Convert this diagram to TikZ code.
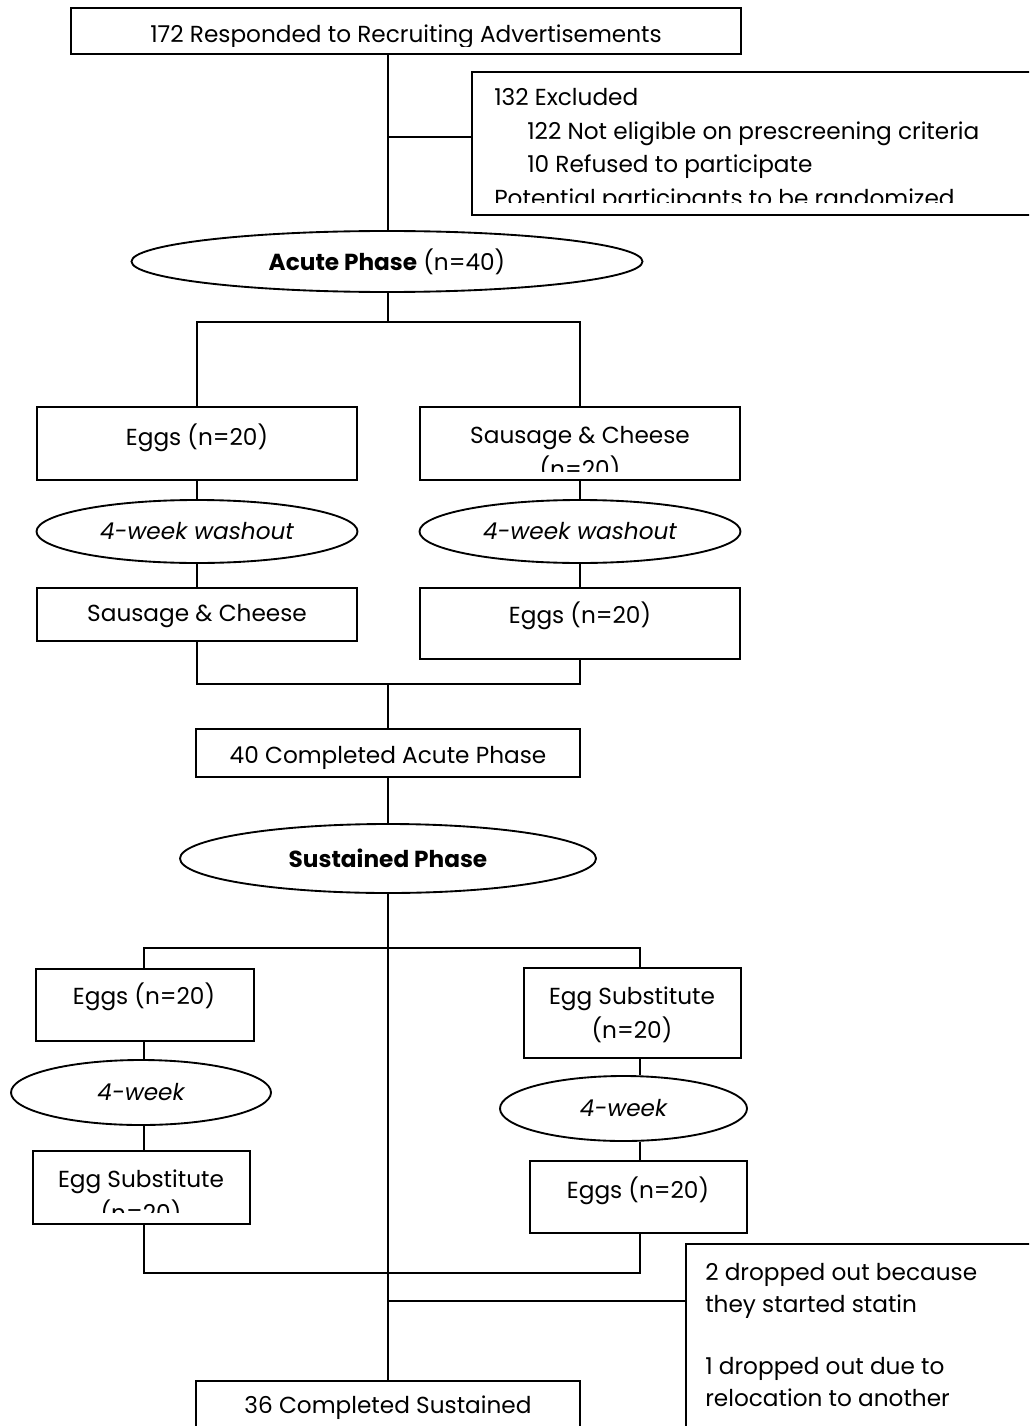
\documentclass[tikz,border=0pt]{standalone}
\usepackage{fontspec}
\setmainfont{Poppins}
\usetikzlibrary{shapes.geometric,fit}
\newcommand\dfont{\fontsize{17.4pt}{20pt}\selectfont}
\tikzset{
  box/.style={draw, line width=1.4pt, inner sep=0pt},
  oval/.style={draw, ellipse, line width=1.4pt, inner sep=0pt, font=\dfont},
  txt/.style={inner sep=0pt, anchor=base, font=\dfont},
  ltxt/.style={inner sep=0pt, anchor=base west, font=\dfont},
  conn/.style={line width=1pt},
}
\begin{document}
\begin{tikzpicture}[x=0.75pt,y=-0.75pt]
\clip (0,0) rectangle (1029,1426);
\useasboundingbox (0,0) rectangle (1029,1426);

% ---------- boxes ----------
\node[box, fit={(71,8)(741,54)}] (top) {};
\node[box, fit={(472,72)(1040,215)}] (excl1) {};
\node[box, fit={(37,407)(357,480)}] (eggs1) {};
\node[box, fit={(420,407)(740,480)}] (sc1) {};
\node[box, fit={(37,588)(357,641)}] (sc2) {};
\node[box, fit={(420,588)(740,659)}] (eggs2) {};
\node[box, fit={(196,729)(580,777)}] (cacute) {};
\node[box, fit={(36,969)(254,1041)}] (eggs3) {};
\node[box, fit={(524,968)(741,1058)}] (esub1) {};
\node[box, fit={(33,1151)(250,1224)}] (esub2) {};
\node[box, fit={(530,1161)(747,1233)}] (eggs4) {};
\node[box, fit={(686,1244)(1040,1440)}] (excl2) {};
\node[box, fit={(196,1381)(580,1440)}] (csust) {};

% ---------- ellipses ----------
\node[oval, minimum width=383.25pt, minimum height=45.75pt] (acute) at (387,261.5) {\textbf{Acute Phase} (n=40)};
\node[oval, minimum width=240.75pt, minimum height=47.25pt] (w1) at (197,531.5) {\itshape 4-week washout};
\node[oval, minimum width=240.75pt, minimum height=47.25pt] (w2) at (580,531.5) {\itshape 4-week washout};
\node[oval, minimum width=312pt, minimum height=51.75pt] (sust) at (388,858.5) {\textbf{Sustained Phase}};
\node[oval, minimum width=195pt, minimum height=48.75pt] (w3) at (141,1092.5) {\itshape 4-week};
\node[oval, minimum width=185.25pt, minimum height=48.75pt] (w4) at (623.5,1108.5) {\itshape 4-week};

% ---------- texts ----------
\begin{scope}
\clip (71,8) rectangle (741,47);
\node[txt] (t-top) at (406,43) {172 Responded to Recruiting Advertisements};
\end{scope}
\begin{scope}
\clip (472,72) rectangle (1029,203);
\node[ltxt] (t-ex1) at (494,106) {132 Excluded};
\node[ltxt] (t-ex2) at (527,140) {122 Not eligible on prescreening criteria};
\node[ltxt] (t-ex3) at (527,173) {10 Refused to participate};
\node[ltxt] (t-ex4) at (494,207) {Potential participants to be randomized};
\end{scope}
\node[txt] (t-eggs1) at (197,445) {Eggs (n=20)};
\begin{scope}
\clip (420,407) rectangle (740,471);
\node[txt] (t-sc1a) at (580,443) {Sausage \& Cheese};
\node[txt] (t-sc1b) at (580,477) {(n=20)};
\end{scope}
\node[txt] (t-sc2) at (197,621) {Sausage \& Cheese};
\node[txt] (t-eggs2) at (580,623) {Eggs (n=20)};
\node[txt] (t-cacute) at (388,763) {40 Completed Acute Phase};
\node[txt] (t-eggs3) at (144,1004) {Eggs (n=20)};
\node[txt] (t-esub1a) at (632,1004) {Egg Substitute};
\node[txt] (t-esub1b) at (632,1038) {(n=20)};
\begin{scope}
\clip (33,1151) rectangle (250,1212);
\node[txt] (t-esub2a) at (141,1187) {Egg Substitute};
\node[txt] (t-esub2b) at (141,1221) {(n=20)};
\end{scope}
\node[txt] (t-eggs4) at (638,1198) {Eggs (n=20)};
\begin{scope}[every node/.append style={font=\dfont\itshape}]
\node[ltxt] (t-dr1) at (705,1280) {2 dropped out because};
\node[ltxt] (t-dr2) at (705,1312) {they started statin};
\node[ltxt] (t-dr3) at (705,1374) {1 dropped out due to};
\node[ltxt] (t-dr4) at (705,1406) {relocation to another};
\end{scope}
\node[txt] (t-csust) at (388,1413) {36 Completed Sustained};

% ---------- connectors ----------
\coordinate (j1) at (388,137);
\coordinate (j2) at (388,322);
\coordinate (j3) at (388,684);
\coordinate (bl) at (144,948);
\coordinate (br) at (640,948);
\coordinate (bb) at (144,1273);
\coordinate (j4) at (388,1301);

\draw[conn] (top.south -| j1) -- (acute.north -| j1);
\draw[conn] (j1) -- (j1 -| excl1.west);
\draw[conn] (acute.south -| j2) -- (j2);
\draw[conn] (eggs1.north) -- (eggs1.north |- j2) -- (sc1.north |- j2) -- (sc1.north);
\draw[conn] (eggs1.south) -- (w1.north);
\draw[conn] (w1.south) -- (sc2.north);
\draw[conn] (sc1.south) -- (w2.north);
\draw[conn] (w2.south) -- (eggs2.north);
\draw[conn] (sc2.south) -- (sc2.south |- j3) -- (eggs2.south |- j3) -- (eggs2.south);
\draw[conn] (j3) -- (cacute.north);
\draw[conn] (cacute.south) -- (sust.north);
\draw[conn] (sust.south) -- (csust.north);
\draw[conn] (bl |- eggs3.north) -- (bl) -- (br) -- (br |- esub1.north);
\draw[conn] (bl |- eggs3.south) -- (bl |- w3.north);
\draw[conn] (bl |- w3.south) -- (bl |- esub2.north);
\draw[conn] (br |- esub1.south) -- (br |- w4.north);
\draw[conn] (br |- w4.south) -- (br |- eggs4.north);
\draw[conn] (bl |- esub2.south) -- (bb) -- (bb -| br) -- (br |- eggs4.south);
\draw[conn] (j4) -- (j4 -| excl2.west);
\end{tikzpicture}
\end{document}
